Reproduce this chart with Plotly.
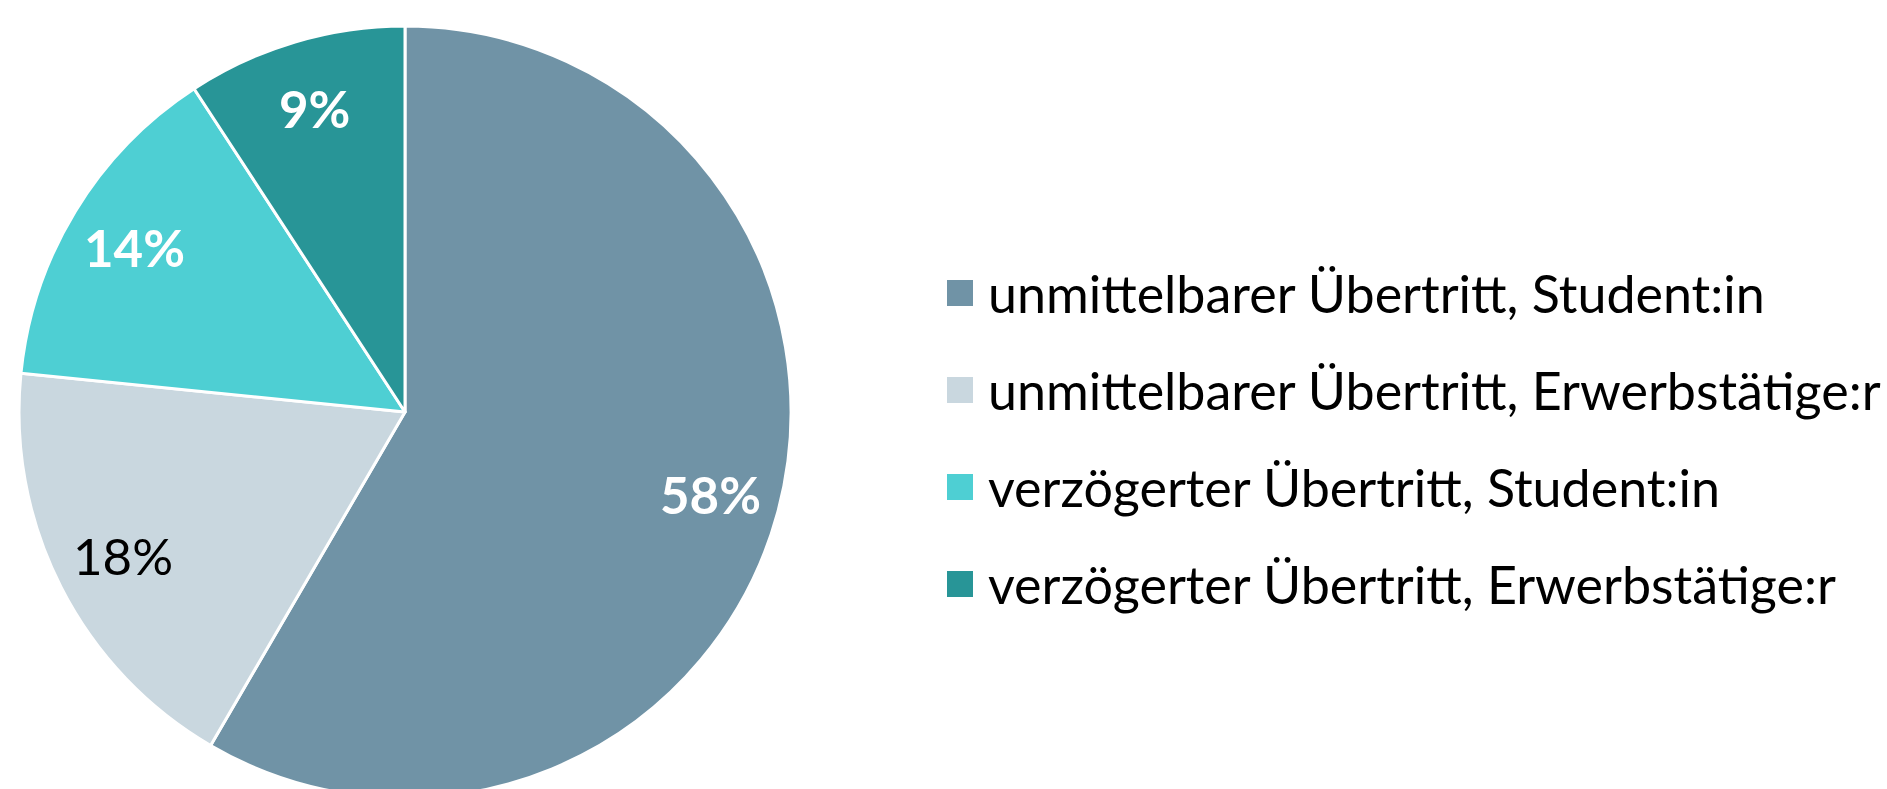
import math
import plotly.graph_objects as go

labels = [
    "unmittelbarer Übertritt, Student:in",
    "unmittelbarer Übertritt, Erwerbstätige:r",
    "verzögerter Übertritt, Student:in",
    "verzögerter Übertritt, Erwerbstätige:r",
]
values = [58.4, 18.2, 14.2, 9.2]
pct_labels = ["58%", "18%", "14%", "9%"]
colors = ["#7093A6", "#C9D7DF", "#4ECFD3", "#289597"]
text_colors = ["white", "black", "white", "white"]
text_bold = [True, False, True, True]

W, H = 1887, 800
cx, cy, r = 405, 412, 386

fig = go.Figure()
fig.add_trace(go.Pie(
    labels=labels, values=values, sort=False, direction="clockwise", rotation=0,
    marker=dict(colors=colors, line=dict(color="white", width=3)),
    textinfo="none", showlegend=False, hoverinfo="label+percent",
    domain=dict(x=[(cx - r) / W, (cx + r) / W], y=[1 - (cy + r) / H, 1 - (cy - r) / H]),
))

# slice labels placed along each slice's mid-angle
total = sum(values)
cum = 0.0
for v, t, tc, b in zip(values, pct_labels, text_colors, text_bold):
    mid = (cum + v / 2) / total * 2 * math.pi
    cum += v
    rr = 0.82 * r
    px = cx + rr * math.sin(mid)
    py = cy - rr * math.cos(mid)
    fig.add_annotation(text=f"<b>{t}</b>" if b else t, xref="paper", yref="paper",
                       x=px / W, y=1 - py / H, xanchor="center", yanchor="middle",
                       showarrow=False, font=dict(family="Lato", size=51, color=tc))

# legend built from labels/colors
leg_x0, leg_y0, leg_dy, sq = 947, 293, 97, 26
for i, (lab, col) in enumerate(zip(labels, colors)):
    yc = leg_y0 + i * leg_dy
    fig.add_shape(type="rect", xref="paper", yref="paper",
                  x0=leg_x0 / W, x1=(leg_x0 + sq) / W,
                  y0=1 - (yc + sq / 2) / H, y1=1 - (yc - sq / 2) / H,
                  fillcolor=col, line=dict(width=0))
    fig.add_annotation(text=lab, xref="paper", yref="paper", x=986 / W, y=1 - yc / H,
                       xanchor="left", yanchor="middle", showarrow=False,
                       font=dict(family="Lato", size=52, color="black"))

fig.update_layout(width=W, height=H, autosize=False,
                  margin=dict(l=0, r=0, t=0, b=0),
                  paper_bgcolor="white", plot_bgcolor="white")

fig.write_html("out.html", config={"displayModeBar": False},
               post_script="document.body.style.margin='0';document.body.style.overflow='hidden';document.documentElement.style.overflow='hidden';")
